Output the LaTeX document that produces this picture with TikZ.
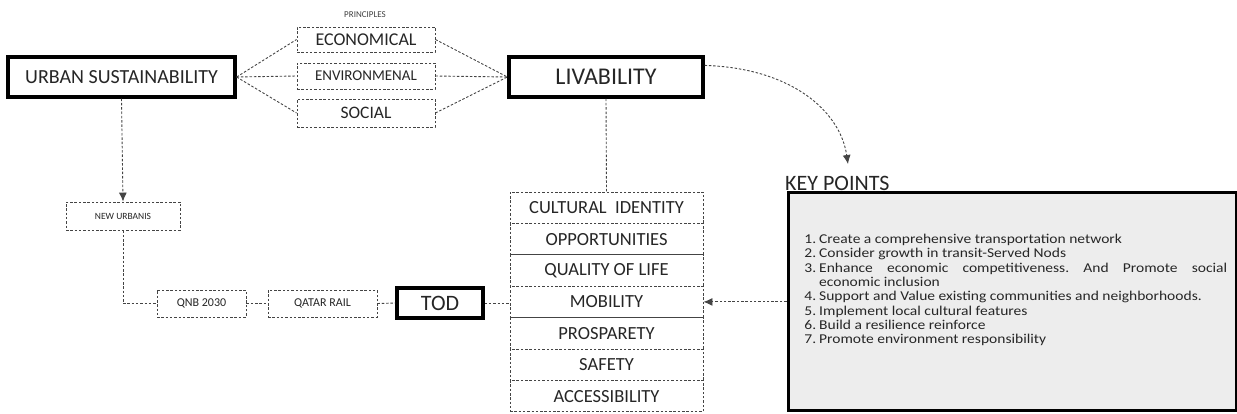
\documentclass[tikz,border=0pt]{standalone}
\usepackage{fontspec}
\setmainfont{Carlito}
\newfontfamily\kpfont[FakeStretch=1.15]{Carlito}
\usepackage{enumitem}
\usetikzlibrary{arrows.meta}
\definecolor{dash}{HTML}{444444}
\definecolor{kpfill}{HTML}{EDEDED}
\tikzset{
  mainbox/.style={draw=black,line width=3.2pt,fill=white,inner sep=0pt,align=center,text=black!85},
  dbox/.style={draw=dash,dash pattern=on 2.5pt off 1.8pt,line width=0.9pt,fill=white,inner sep=0pt,align=center,text=black!85},
  conn/.style={draw=dash,dash pattern=on 2.5pt off 1.8pt,line width=0.9pt},
  tip/.style={-{Latex[length=9pt,width=8pt]}}
}
\begin{document}
\begin{tikzpicture}[x=1pt,y=-1pt]
\useasboundingbox (0,0) rectangle (1237,413);
% main boxes
\node[mainbox,minimum width=227pt,minimum height=40pt,font=\fontsize{20}{22}\selectfont] (us) at (121.5,77) {URBAN SUSTAINABILITY};
\node[mainbox,minimum width=194pt,minimum height=40pt,font=\fontsize{24}{26}\selectfont] (liv) at (606,77) {LIVABILITY};
\node[mainbox,minimum width=86pt,minimum height=30pt,font=\fontsize{22}{24}\selectfont] (tod) at (440,303) {TOD};
% principles
\node[font=\fontsize{9}{10}\selectfont,text=black!75] (pr) at (365,15) {PRINCIPLES};
\node[dbox,minimum width=138pt,minimum height=25pt,font=\fontsize{18}{20}\selectfont] (eco) at (366,39.5) {ECONOMICAL};
\node[dbox,minimum width=138pt,minimum height=26pt,font=\fontsize{15}{17}\selectfont] (env) at (366,76) {ENVIRONMENAL};
\node[dbox,minimum width=138pt,minimum height=28pt,font=\fontsize{17.5}{19}\selectfont] (soc) at (366,113) {SOCIAL};
% left chain
\node[dbox,minimum width=114pt,minimum height=28pt,font=\fontsize{9.5}{11}\selectfont] (nu) at (123,216) {NEW URBANIS};
\node[dbox,minimum width=89pt,minimum height=27pt,font=\fontsize{12}{14}\selectfont] (qnb) at (201.5,303.5) {QNB 2030};
\node[dbox,minimum width=109pt,minimum height=27pt,font=\fontsize{12}{14}\selectfont] (qr) at (322.5,303.5) {QATAR RAIL};
% stack
\foreach \n/\t [count=\i] in {ci/CULTURAL\ \ IDENTITY,op/OPPORTUNITIES,ql/QUALITY OF LIFE,mob/MOBILITY,pro/PROSPARETY,saf/SAFETY,acc/ACCESSIBILITY}{
  \node[dbox,minimum width=193pt,minimum height=31.4pt,font=\fontsize{18.5}{20}\selectfont] (\n) at (606.5,{192+15.7+31.4*(\i-1)}) {\t};
}
% key points
\node[draw=black,line width=3pt,fill=kpfill,minimum width=448pt,minimum height=218pt,inner sep=0pt] (kp) at (1012,301.5) {};
\node[anchor=north west,text width=422pt,align=justify,font=\kpfont\fontsize{13.5}{14.3}\selectfont\frenchspacing,text=black!85,inner sep=0pt] (kpt) at (805,229) {%
\begin{enumerate}[leftmargin=14pt,labelsep=3pt,itemsep=0pt,topsep=0pt,parsep=0pt,partopsep=0pt]
\item Create a comprehensive transportation network
\item Consider growth in transit-Served Nods
\item Enhance economic competitiveness. And Promote social\linebreak economic inclusion
\item Support and Value existing communities and neighborhoods.
\item Implement local cultural features
\item Build a resilience reinforce
\item Promote environment responsibility
\end{enumerate}};
\node[anchor=south west,inner sep=0pt,font=\fontsize{22}{24}\selectfont,text=black!85] (kpl) at (785,191) {KEY POINTS};
% connectors
\draw[conn] (us.east) -- (eco.west);
\draw[conn] (us.east) -- (env.west);
\draw[conn] (us.east) -- (soc.west);
\draw[conn] (eco.east) -- (liv.west);
\draw[conn] (env.east) -- (liv.west);
\draw[conn] (soc.east) -- (liv.west);
\draw[conn,tip] (us.south) -- (nu.north);
\draw[conn] (nu.south) |- (qnb.west);
\draw[conn] (qnb.east) -- (qr.west);
\draw[conn] (qr.east) -- (tod.west);
\draw[conn] (tod.east) -- (tod.east -| mob.west);
\draw[conn] (liv.south) -- (ci.north);
\draw[conn,tip] (kp.west |- mob.east) -- (mob.east);
\draw[conn,tip] ([yshift=-10pt]liv.north east) .. controls (790,68) and (840,110) .. (848,164);
\end{tikzpicture}
\end{document}
